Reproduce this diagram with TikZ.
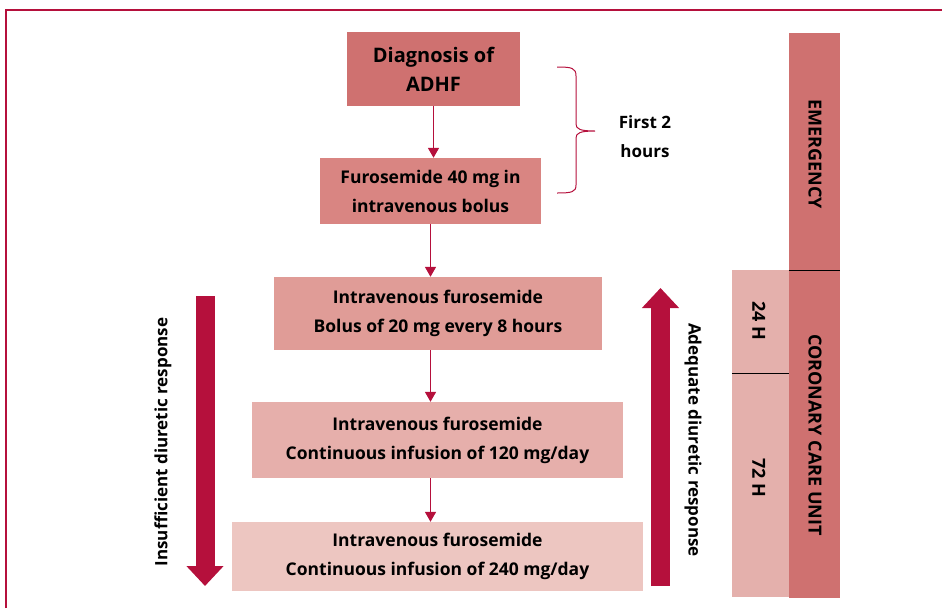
\documentclass[tikz,border=0pt]{standalone}
\usepackage{fontspec}
\setmainfont{Open Sans}
\usepackage{xcolor}
\usetikzlibrary{arrows.meta,positioning,calc}

\definecolor{crimson}{HTML}{B5103C}
\definecolor{roseA}{HTML}{CF7170}
\definecolor{roseB}{HTML}{D98582}
\definecolor{roseC}{HTML}{E09C97}
\definecolor{roseD}{HTML}{E6AFAB}
\definecolor{roseE}{HTML}{EDC6C1}
\definecolor{roseF}{HTML}{E4B0AC}

\begin{document}
\begin{tikzpicture}[
    x=1pt, y=-1pt,
    box/.style={rectangle, inner sep=0pt, align=center, font=\fontsize{17.5}{29}\selectfont\bfseries},
    band/.style={rectangle, inner sep=0pt, font=\fontsize{18}{20}\selectfont\bfseries},
    arrow/.style={-{Triangle[width=11pt,length=10pt]}, crimson, line width=1.6pt},
    bigarrow/.style={crimson, line width=19pt, -{Triangle[width=36pt,length=20pt]}},
    side/.style={font=\fontsize{17}{29}\selectfont\bfseries}
]
    \useasboundingbox (0,0) rectangle (942,608);
    % frame
    \draw[crimson, line width=2pt] (6,608) -- (6,10) -- (942,10);

    % flow boxes
    \node[box, fill=roseA, minimum width=173pt, minimum height=74pt, font=\fontsize{20}{29}\selectfont\bfseries] (diag) at (433.5,69) {Diagnosis of\\ADHF};
    \node[box, fill=roseB, minimum width=221pt, minimum height=66pt] (furo) at (430.5,191) {Furosemide 40 mg in\\intravenous bolus};
    \node[box, fill=roseC, minimum width=328pt, minimum height=73pt] (bolus) at (438,313.5) {Intravenous furosemide\\Bolus of 20 mg every 8 hours};
    \node[box, fill=roseD, minimum width=371pt, minimum height=76pt] (inf120) at (437.5,440) {Intravenous furosemide\\Continuous infusion of 120 mg/day};
    \node[box, fill=roseE, minimum width=411pt, minimum height=69pt] (inf240) at (437.5,556.5) {Intravenous furosemide\\Continuous infusion of 240 mg/day};

    \draw[arrow] (diag.south) -- (diag.south |- furo.north);
    \draw[arrow] (furo.south) -- (furo.south |- bolus.north);
    \draw[arrow] (furo.south |- bolus.south) -- (furo.south |- inf120.north);
    \draw[arrow] (furo.south |- inf120.south) -- (furo.south |- inf240.north);

    % first 2 hours
    \draw[crimson, line width=1pt] (557,67) .. controls (572,67) and (576,68) .. (576,76) -- (576,124)
        .. controls (576,129) and (580,131) .. (595,131) .. controls (580,131) and (576,133) .. (576,138)
        -- (576,185) .. controls (576,192) and (572,193) .. (557,193);
    \node[side, align=center] (hours) at (645,137) {First 2\\hours};

    % response arrows
    \coordinate (insTop) at (205,296);
    \coordinate (insBot) at (205,586);
    \draw[bigarrow] (insTop) -- (insBot);
    \node[side, rotate=90] (insText) at (163,442) {Insufficient diuretic response};
    \coordinate (adqBot) at (660.5,586);
    \coordinate (adqTop) at (660.5,288);
    \draw[bigarrow] (adqBot) -- (adqTop);
    \node[side, rotate=-90] (adqText) at (693,440) {Adequate diuretic response};

    % setting bands
    \node[band, fill=roseA, minimum width=51pt, minimum height=237pt] (emerg) at (814.5,151.5) {};
    \node[band, rotate=-90] (emergText) at (815,154) {EMERGENCY};
    \node[band, fill=roseA, minimum width=51pt, minimum height=328pt] (ccu) at (814.5,434) {};
    \node[band, rotate=-90] (ccuText) at (815,435) {CORONARY CARE UNIT};
    \node[band, fill=roseF, minimum width=57pt, minimum height=103pt] (h24) at (760.5,321.5) {};
    \node[band, rotate=-90] (h24Text) at (759,321) {24 H};
    \node[band, fill=roseF, minimum width=57pt, minimum height=224pt] (h72) at (760.5,485) {};
    \node[band, rotate=-90] (h72Text) at (759,478) {72 H};
    \draw[black, line width=0.8pt] (emerg.south west) -- (emerg.south east);
    \draw[black, line width=0.6pt] (h72.north west) -- (h72.north east);
\end{tikzpicture}
\end{document}
